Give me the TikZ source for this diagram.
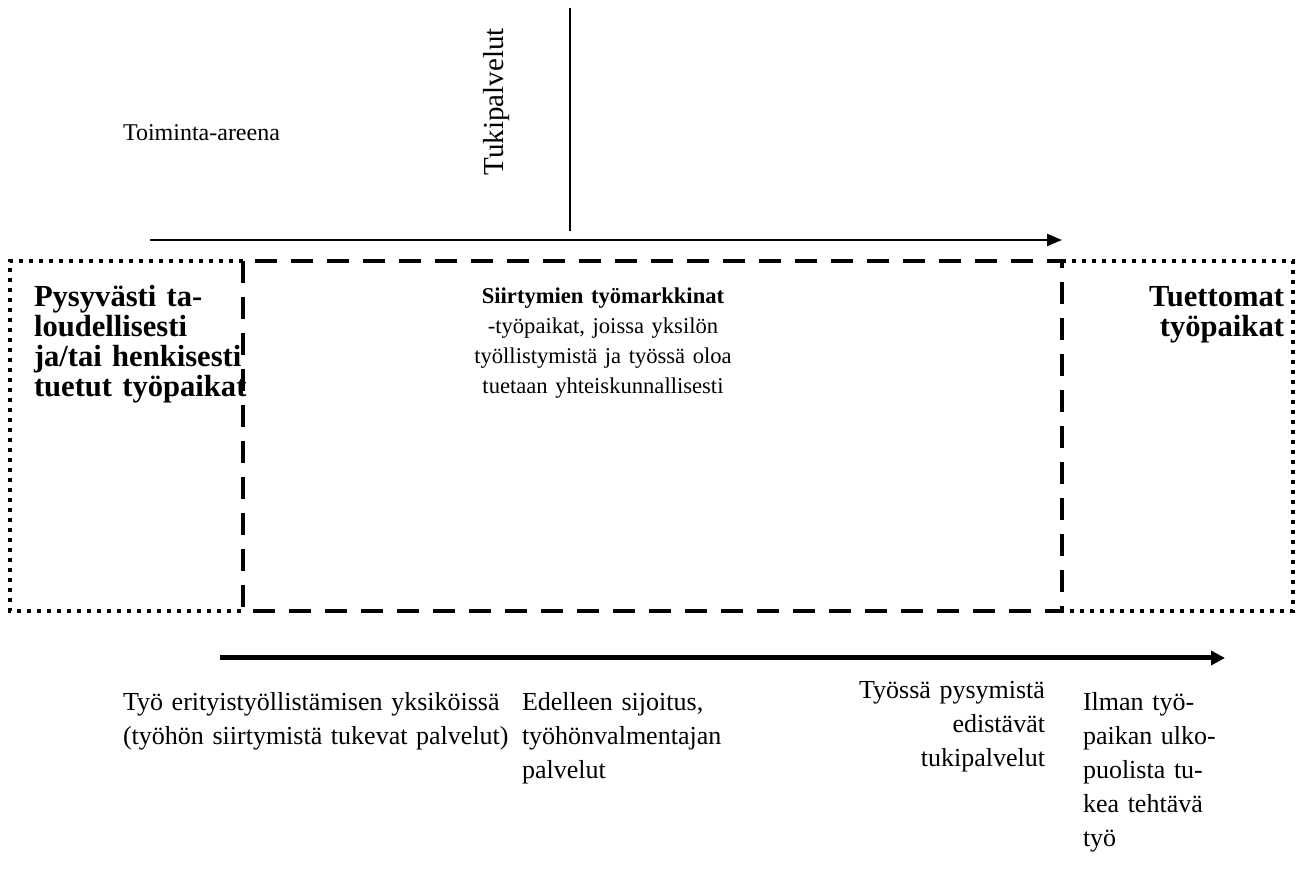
\documentclass[tikz,border=0pt]{standalone}
\usepackage{fontspec}
\setmainfont{Liberation Serif}
\usetikzlibrary{arrows.meta}
\begin{document}
\begin{tikzpicture}[x=0.5pt,y=-0.5pt,
  txt/.style={inner sep=0pt, outer sep=0pt},
  bottomtxt/.style={txt, font=\fontsize{13}{17}\selectfont},
  boldtxt/.style={txt, font=\fontsize{15.3}{15}\selectfont\bfseries},
  midtxt/.style={txt, font=\fontsize{11.3}{15}\selectfont},
  dottedbox/.style={line width=2pt, dash pattern=on 2pt off 3pt},
  dashedbox/.style={line width=2.2pt, dash pattern=on 11pt off 7pt},
  thinarrow/.style={line width=1pt, -{Triangle[length=7.5pt,width=6pt]}},
  thickarrow/.style={line width=2.5pt, -{Triangle[length=7pt,width=7pt]}},
  plainline/.style={line width=1pt},
]
\fill[white] (0,0) rectangle (1297,870);
\useasboundingbox (0,0) rectangle (1297,870);

% connector end points
\coordinate (ta1) at (150,240);
\coordinate (ta2) at (1062,240);
\coordinate (vl1) at (570,8);
\coordinate (vl2) at (570,231);
\coordinate (ba1) at (220,658);
\coordinate (ba2) at (1225,658);

% boxes
\draw[dottedbox] (243,261) -- (10,261) -- (10,611) -- (243,611);
\draw[dottedbox] (1062,261) -- (1293,261) -- (1293,611) -- (1062,611);
\draw[dashedbox] (243,261) rectangle (1062,611);

% lines and arrows
\draw[plainline] (vl1) -- (vl2);
\draw[thinarrow] (ta1) -- (ta2);
\draw[thickarrow] (ba1) -- (ba2);

% texts
\node[txt, font=\fontsize{12}{14}\selectfont, anchor=base west] (arena) at (123,141) {Toiminta-areena};
\node[txt, font=\fontsize{14.5}{16}\selectfont, rotate=90, anchor=base] (tuki) at (503,102) {Tukipalvelut};

\node[boldtxt, text width=150pt, align=left, anchor=base west] (left) at (34,307)
  {Pysyvästi ta-\\loudellisesti\\ja/tai henkisesti\\tuetut työpaikat};
\node[midtxt, text width=200pt, align=center, anchor=base] (mid) at (603,304)
  {\textbf{Siirtymien työmarkkinat}\\-työpaikat, joissa yksilön\\työllistymistä ja työssä oloa\\tuetaan yhteiskunnallisesti};
\node[boldtxt, text width=150pt, align=right, anchor=base east] (right) at (1284,307)
  {Tuettomat\\työpaikat};

\node[bottomtxt, text width=250pt, align=left, anchor=base west] (b1) at (123,711)
  {Työ erityistyöllistämisen yksiköissä\\(työhön siirtymistä tukevat palvelut)};
\node[bottomtxt, text width=150pt, align=left, anchor=base west] (b2) at (522,711)
  {Edelleen sijoitus,\\työhönvalmentajan\\palvelut};
\node[bottomtxt, text width=150pt, align=right, anchor=base east] (b3) at (1045,699)
  {Työssä pysymistä\\edistävät\\tukipalvelut};
\node[bottomtxt, text width=150pt, align=left, anchor=base west] (b4) at (1083,711)
  {Ilman työ-\\paikan ulko-\\puolista tu-\\kea tehtävä\\työ};
\end{tikzpicture}
\end{document}
